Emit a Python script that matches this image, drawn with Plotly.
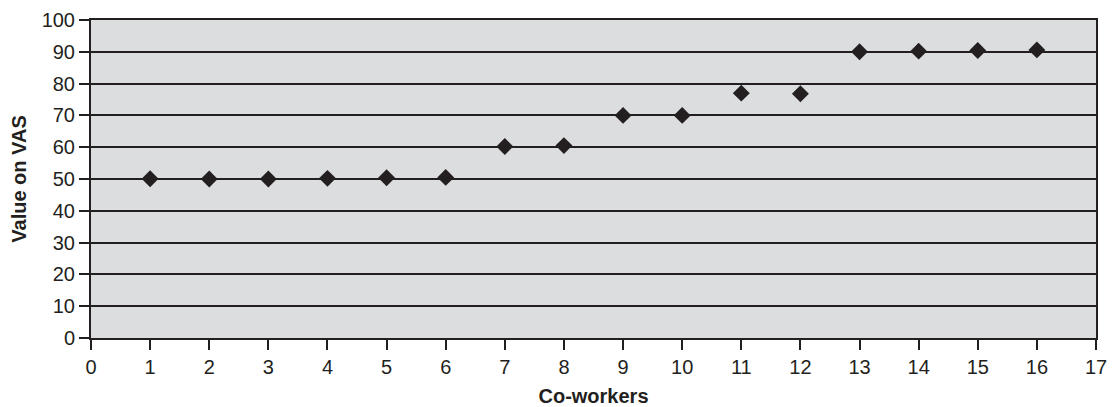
import plotly.graph_objects as go

# Co-worker ratings on the visual analogue scale
coworkers = list(range(1, 17))
vas_values = [50.1, 50.0, 50.0, 50.2, 50.4, 50.5, 60.2, 60.5,
              70.0, 70.0, 77.0, 76.8, 90.0, 90.2, 90.4, 90.6]

x_ticks = list(range(0, 18))
y_ticks = list(range(0, 101, 10))

INK = "#231f20"
FONT = "Liberation Sans, Arial, Helvetica, sans-serif"

fig = go.Figure(
    go.Scatter(
        x=coworkers,
        y=vas_values,
        mode="markers",
        marker=dict(symbol="diamond", size=13, color=INK, line=dict(width=0)),
        showlegend=False,
    )
)

fig.update_layout(
    width=1117,
    height=407,
    margin=dict(l=91, r=21, t=20, b=69),
    paper_bgcolor="white",
    plot_bgcolor="#dcdddf",
    font=dict(family=FONT, color=INK, size=20),
    xaxis=dict(
        range=[0, 17],
        tickvals=x_ticks,
        ticktext=[str(v) for v in x_ticks],
        automargin=False,
        showgrid=False,
        zeroline=False,
        showline=True,
        linecolor=INK,
        linewidth=2,
        mirror=True,
        ticks="outside",
        ticklen=10,
        tickwidth=1.5,
        tickcolor=INK,
        ticklabelstandoff=0,
        tickfont=dict(size=20, color=INK),
        title=dict(text="<b>Co-workers</b>", font=dict(size=20, color=INK), standoff=18),
    ),
    yaxis=dict(
        range=[0, 100],
        tickvals=y_ticks,
        automargin=False,
        showgrid=True,
        gridcolor=INK,
        gridwidth=1.8,
        zeroline=False,
        showline=True,
        linecolor=INK,
        linewidth=2,
        mirror=True,
        ticks="outside",
        ticklen=10,
        tickwidth=1.5,
        tickcolor=INK,
        tickfont=dict(size=20, color=INK),
        title=dict(text="<b>Value on VAS</b>", font=dict(size=20, color=INK), standoff=10),
    ),
)

fig.write_html("out.html")
